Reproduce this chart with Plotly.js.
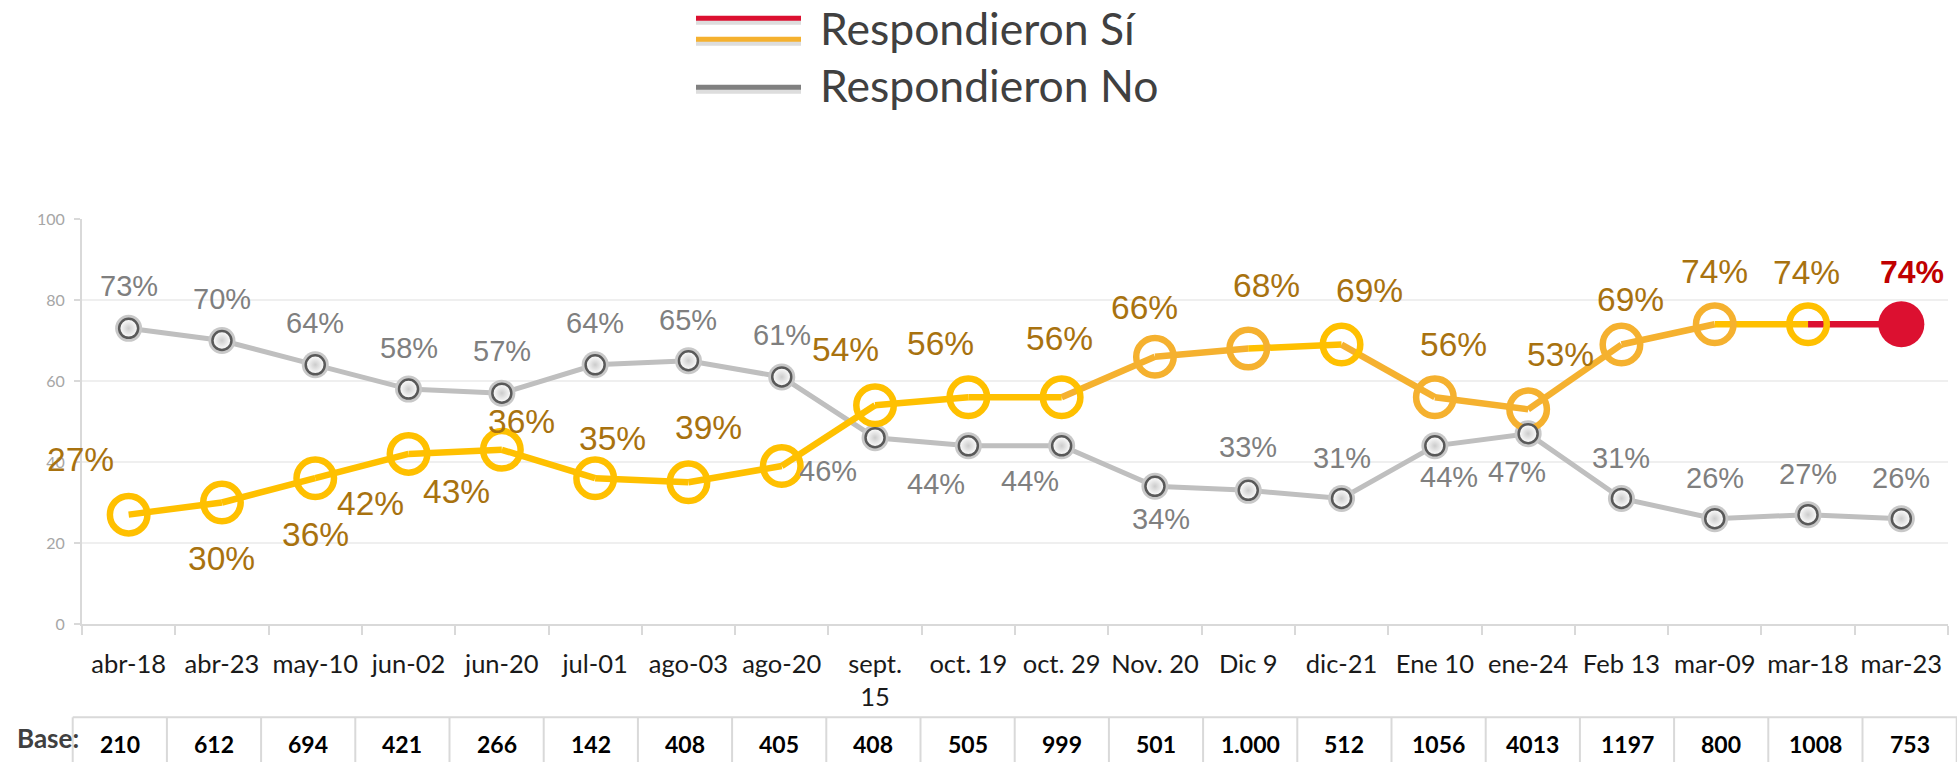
<!DOCTYPE html>
<html>
<head>
<meta charset="utf-8">
<script src="https://cdn.plot.ly/plotly-3.0.1.min.js"></script>
<style>
  html, body { margin: 0; padding: 0; background: #ffffff; }
  #chart { width: 1957px; height: 762px; }
</style>
</head>
<body>
<div id="chart"></div>
<script>
// ---------------- data ----------------
const categories = ['abr-18','abr-23','may-10','jun-02','jun-20','jul-01','ago-03','ago-20','sept.<br>15','oct. 19','oct. 29','Nov. 20','Dic 9','dic-21','Ene 10','ene-24','Feb 13','mar-09','mar-18','mar-23'];
const respondieronSi = [27, 30, 36, 42, 43, 36, 35, 39, 54, 56, 56, 66, 68, 69, 56, 53, 69, 74, 74, 74];
const respondieronNo = [73, 70, 64, 58, 57, 64, 65, 61, 46, 44, 44, 34, 33, 31, 44, 47, 31, 26, 27, 26];
const baseLabels = ['210','612','694','421','266','142','408','405','408','505','999','501','1.000','512','1056','4013','1197','800','1008','753'];
const legendLabels = ['Respondieron Sí', 'Respondieron No'];
const yTicks = [0, 20, 40, 60, 80, 100];

// ---------------- styles ----------------
const YELLOW = '#FFC000', ORANGE = '#F5B12F', RED = '#DC1030';
const siColorKey = ['y','y','y','y','y','y','y','y','y','y','y','o','o','y','o','o','o','o','y','r'];
const colorOf = k => k === 'y' ? YELLOW : (k === 'o' ? ORANGE : RED);
const siColors = siColorKey.map(colorOf);

// label offsets in pixels (dx right, dy down) relative to the point
const siLabelDx = [-48, 0, 0, -38, -45, -74, -76, -73, -30, -28, -2, -10, 18, 28, 19, 32, 9, 0, -2, 11];
const siLabelDy = [-55, 56, 56, 50, 42, -57, -44, -39, -56, -54, -59, -49, -63, -54, -53, -55, -45, -53, -52, -52];
const noLabelDx = [0, 0, 0, 0, 0, 0, 0, 0, -47, -32, -32, 6, 0, 0, 14, -11, 0, 0, 0, 0];
const noLabelDy = [-42, -42, -42, -41, -42, -42, -41, -42, 33, 38, 35, 33, -43, -40, 31, 38, -40, -41, -41, -41];

const LABEL_FONT = 'Liberation Sans, Arial, sans-serif';
const CAL_FONT = 'Lato, Carlito, Calibri, sans-serif';

// geometry helpers (layout only)
const W = 1957, H = 762;
const M = {l: 82, r: 9, t: 219, b: 138};
const plotW = W - M.l - M.r, plotH = H - M.t - M.b;
const px2x = px => (px - M.l) / plotW;
const py2y = py => (H - M.b - py) / plotH;

// ---------------- traces ----------------
const traces = [];

// grey line + halo
traces.push({
  x: categories, y: respondieronNo, type: 'scatter', mode: 'lines+markers',
  line: {color: '#BFBFBF', width: 5},
  marker: {size: 27, color: '#C8C8C8', opacity: 1},
  hoverinfo: 'skip', showlegend: false
});

// Sí line segments, coloured by the destination point
for (let i = 1; i < categories.length; i++) {
  traces.push({
    x: [categories[i - 1], categories[i]],
    y: [respondieronSi[i - 1], respondieronSi[i]],
    type: 'scatter', mode: 'lines',
    line: {color: siColors[i], width: 6.5},
    hoverinfo: 'skip', showlegend: false
  });
}

// Sí markers
const n = categories.length;
traces.push({
  x: categories, y: respondieronSi, type: 'scatter', mode: 'markers',
  marker: {
    symbol: siColorKey.map(k => k === 'r' ? 'circle' : 'circle-open'),
    color: siColors,
    opacity: 1,
    size: siColorKey.map(k => k === 'r' ? 46 : 37.5),
    line: {color: siColors, width: siColorKey.map(k => k === 'r' ? 0 : 6.5)}
  },
  showlegend: false
});

// No markers
traces.push({
  x: categories, y: respondieronNo, type: 'scatter', mode: 'markers',
  marker: {
    size: 19, color: '#FFFFFF', opacity: 1,
    gradient: {type: 'radial', color: '#CCCCCC'},
    line: {color: '#595959', width: 2.5}
  },
  showlegend: false
});

// ---------------- annotations ----------------
const annotations = [];
categories.forEach((c, i) => {
  const isRed = siColorKey[i] === 'r';
  annotations.push({
    x: c, y: respondieronSi[i], xref: 'x', yref: 'y',
    text: isRed ? '<b>' + respondieronSi[i] + '%</b>' : respondieronSi[i] + '%',
    showarrow: false, xanchor: 'center', yanchor: 'middle',
    xshift: siLabelDx[i], yshift: -siLabelDy[i],
    font: {family: LABEL_FONT, size: isRed ? 32 : 33.5, color: isRed ? '#C00000' : '#A8720F'}
  });
  annotations.push({
    x: c, y: respondieronNo[i], xref: 'x', yref: 'y',
    text: respondieronNo[i] + '%',
    showarrow: false, xanchor: 'center', yanchor: 'middle',
    xshift: noLabelDx[i], yshift: -noLabelDy[i],
    font: {family: LABEL_FONT, size: 29, color: '#7F7F7F'}
  });
});

// base table
const TBL_LEFT = 72.7, TBL_STEP = 94.2, TBL_TOP = 717.3;
const shapes = [];
shapes.push({type: 'line', xref: 'paper', yref: 'paper',
  x0: px2x(TBL_LEFT), x1: px2x(W), y0: py2y(TBL_TOP), y1: py2y(TBL_TOP),
  line: {color: '#D9D9D9', width: 2}});
for (let k = 0; k <= n; k++) {
  shapes.push({type: 'line', xref: 'paper', yref: 'paper',
    x0: px2x(TBL_LEFT + TBL_STEP * k), x1: px2x(TBL_LEFT + TBL_STEP * k),
    y0: py2y(TBL_TOP), y1: py2y(H + 2),
    line: {color: '#D9D9D9', width: 2}});
}
baseLabels.forEach((b, k) => {
  annotations.push({
    x: px2x(TBL_LEFT + TBL_STEP * (k + 0.5)), y: py2y(744), xref: 'paper', yref: 'paper',
    text: '<b>' + b + '</b>', showarrow: false, xanchor: 'center', yanchor: 'middle',
    font: {family: CAL_FONT, size: 23, color: '#000000'}
  });
});
annotations.push({
  x: px2x(48), y: py2y(738), xref: 'paper', yref: 'paper',
  text: '<b>Base:</b>', showarrow: false, xanchor: 'center', yanchor: 'middle',
  font: {family: CAL_FONT, size: 26, color: '#404040'}
});

// legend (manual)
const LEG_X0 = 696, LEG_X1 = 801, LEG_TX = 818;
function legLine(py, color) {
  shapes.push({type: 'line', xref: 'paper', yref: 'paper',
    x0: px2x(LEG_X0), x1: px2x(LEG_X1), y0: py2y(py + 4), y1: py2y(py + 4),
    line: {color: 'rgba(120,120,120,0.25)', width: 5}});
  shapes.push({type: 'line', xref: 'paper', yref: 'paper',
    x0: px2x(LEG_X0), x1: px2x(LEG_X1), y0: py2y(py), y1: py2y(py),
    line: {color: color, width: 5}});
}
legLine(18.3, RED);
legLine(39.3, ORANGE);
legLine(87.3, '#808080');
annotations.push({
  x: px2x(LEG_TX), y: py2y(27), xref: 'paper', yref: 'paper',
  text: legendLabels[0], showarrow: false, xanchor: 'left', yanchor: 'middle',
  font: {family: CAL_FONT, size: 44.5, color: '#404040'}
});
annotations.push({
  x: px2x(LEG_TX), y: py2y(84), xref: 'paper', yref: 'paper',
  text: legendLabels[1], showarrow: false, xanchor: 'left', yanchor: 'middle',
  font: {family: CAL_FONT, size: 44.5, color: '#404040'}
});

// ---------------- layout ----------------
const layout = {
  width: W, height: H,
  margin: M,
  paper_bgcolor: '#FFFFFF', plot_bgcolor: '#FFFFFF',
  showlegend: false,
  xaxis: {
    type: 'category', categoryorder: 'array', categoryarray: categories,
    range: [-0.5, n - 0.5],
    tickson: 'boundaries', ticks: 'outside', ticklen: 9, tickwidth: 2, tickcolor: '#D9D9D9',
    showline: true, linecolor: '#D9D9D9', linewidth: 2,
    showgrid: false, zeroline: false,
    tickangle: 0,
    tickfont: {family: CAL_FONT, size: 25.5, color: '#1A1A1A'},
    ticklabelstandoff: 16,
    fixedrange: true
  },
  yaxis: {
    range: [0, 100], tickvals: yTicks,
    showgrid: true, gridcolor: '#EFEFEF', gridwidth: 1.5,
    showline: true, linecolor: '#D9D9D9', linewidth: 2,
    ticks: 'outside', ticklen: 6, tickwidth: 2, tickcolor: '#D9D9D9',
    zeroline: false,
    tickfont: {family: CAL_FONT, size: 16, color: '#A6A6A6'},
    ticklabelstandoff: 6,
    fixedrange: true
  },
  shapes: shapes,
  annotations: annotations
};

Plotly.newPlot('chart', traces, layout, {displayModeBar: false, staticPlot: true});
</script>
</body>
</html>
